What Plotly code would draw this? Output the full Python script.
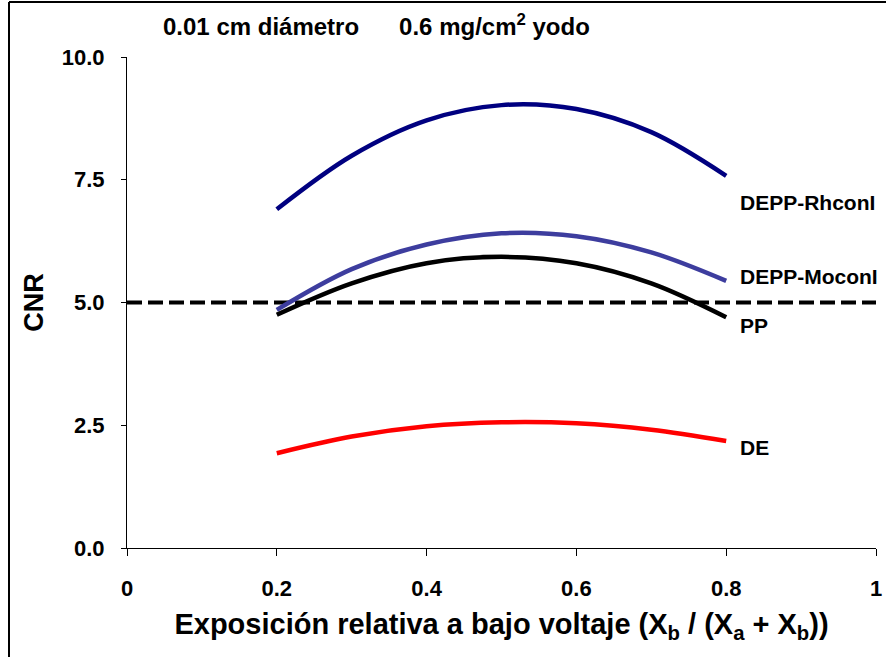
import plotly.graph_objects as go

x_vals = [0.2, 0.3, 0.4, 0.5, 0.6, 0.7, 0.8]
rhcon = [6.90, 7.99, 8.71, 9.02, 8.94, 8.47, 7.58]
mocon = [4.85, 5.68, 6.18, 6.41, 6.35, 6.02, 5.44]
pp = [4.75, 5.39, 5.80, 5.93, 5.80, 5.39, 4.70]
de = [1.93, 2.27, 2.48, 2.56, 2.54, 2.41, 2.18]
threshold = 5.0

series = [
    ("DEPP-RhconI", rhcon, "#000080", 7.03),
    ("DEPP-MoconI", mocon, "#3D3D9E", 5.52),
    ("PP", pp, "#000000", 4.54),
    ("DE", de, "#FF0000", 2.04),
]

FONT = "Liberation Sans, Arial, sans-serif"

fig = go.Figure()

fig.add_trace(go.Scatter(x=[0, 1], y=[threshold, threshold], mode="lines",
                         line=dict(color="black", width=4, dash="15px,6px"),
                         showlegend=False, hoverinfo="skip"))

for name, ys, color, ly in series:
    fig.add_trace(go.Scatter(x=x_vals, y=ys, mode="lines", name=name,
                             line=dict(color=color, width=4.5, shape="spline"),
                             showlegend=False))
    fig.add_annotation(x=0.816, y=ly, text=f"<b>{name}</b>", showarrow=False,
                       xanchor="left", yanchor="middle",
                       font=dict(family=FONT, size=21, color="black"))

fig.add_annotation(xref="paper", yref="paper", x=(161 - 127) / 749, y=(548 - 25) / 491,
                   text="<b>0.01 cm diámetro      0.6 mg/cm<sup>2</sup> yodo</b>",
                   showarrow=False, xanchor="left", yanchor="middle",
                   font=dict(family=FONT, size=24, color="black"))

# outer frame (left and top edges)
fig.add_shape(type="line", xref="paper", yref="paper",
              x0=(9 - 127) / 749, x1=(9 - 127) / 749,
              y0=(548 - 657) / 491, y1=(548 - 2) / 491,
              line=dict(color="black", width=2))
fig.add_shape(type="line", xref="paper", yref="paper",
              x0=(9 - 127) / 749, x1=(886 - 127) / 749,
              y0=(548 - 2) / 491, y1=(548 - 2) / 491,
              line=dict(color="black", width=2))

fig.update_layout(
    width=886, height=661,
    margin=dict(l=127, r=10, t=57, b=113, autoexpand=False),
    paper_bgcolor="white", plot_bgcolor="white",
    font=dict(family=FONT, color="black"),
    xaxis=dict(range=[0, 1], tickvals=[0, 0.2, 0.4, 0.6, 0.8, 1],
               ticktext=["<b>0</b>", "<b>0.2</b>", "<b>0.4</b>", "<b>0.6</b>", "<b>0.8</b>", "<b>1</b>"],
               showgrid=False, zeroline=False, showline=True, linecolor="black", linewidth=1,
               ticks="outside", ticklen=7, tickcolor="black", automargin=False,
               ticklabelstandoff=14,
               tickfont=dict(family=FONT, size=22),
               title=dict(text="<b>Exposición relativa a bajo voltaje (X<sub>b</sub> / (X<sub>a</sub> + X<sub>b</sub>))</b>",
                          font=dict(family=FONT, size=29), standoff=13)),
    yaxis=dict(range=[0, 10], tickvals=[0, 2.5, 5, 7.5, 10],
               ticktext=["<b>0.0</b>", "<b>2.5</b>", "<b>5.0</b>", "<b>7.5</b>", "<b>10.0</b>"],
               showgrid=False, zeroline=False, showline=True, linecolor="black", linewidth=1,
               ticks="outside", ticklen=5, tickcolor="black", automargin=False,
               ticklabelstandoff=12,
               tickfont=dict(family=FONT, size=22),
               title=dict(text="<b>CNR</b>", font=dict(family=FONT, size=27), standoff=10)),
)

fig.write_html("out.html")
